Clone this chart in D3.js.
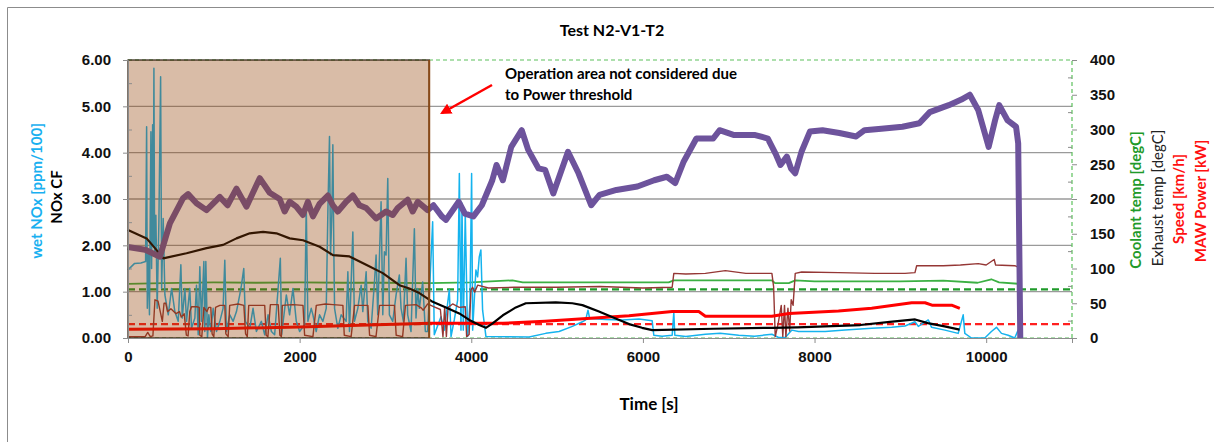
<!DOCTYPE html>
<html>
<head>
<meta charset="utf-8">
<script src="https://cdn.jsdelivr.net/npm/d3@7"></script>
<style>
  body { margin: 0; background: #fff; }
  svg { font-family: Lato, "Open Sans", sans-serif; }
  .tick text { font-weight: bold; font-size: 15px; fill: #111; }
</style>
</head>
<body>
<div id="chart"></div>
<script>
// time axis ticks and the two y axes
const xTicks = [0, 2000, 4000, 6000, 8000, 10000];
const leftTicks = [0, 1, 2, 3, 4, 5, 6];
const rightTicks = [0, 50, 100, 150, 200, 250, 300, 350, 400];

// excluded zone (power threshold)
const excludedEnd = 3510;

// thresholds (right axis units)
const coolantLimit = 70;
const powerLimit = 20;

// exhaust temp [degC] (purple, right axis)
const exhaustT = [0, 200, 372, 488, 640, 700, 798, 915, 1070, 1160, 1264, 1380, 1535, 1651, 1767, 1825, 1883, 1961, 2038, 2096, 2155, 2232, 2329, 2387, 2445, 2542, 2620, 2697, 2775, 2891, 3007, 3085, 3143, 3259, 3317, 3376, 3492, 3559, 3657, 3706, 3853, 3926, 4025, 4123, 4245, 4294, 4368, 4466, 4588, 4662, 4784, 4860, 4956, 5127, 5250, 5397, 5495, 5691, 5936, 6132, 6279, 6377, 6476, 6623, 6819, 6893, 7064, 7309, 7456, 7554, 7603, 7677, 7726, 7775, 7848, 7946, 8093, 8289, 8485, 8583, 8779, 9024, 9221, 9343, 9564, 9711, 9809, 9907, 10029, 10103, 10152, 10250, 10348, 10373, 10397];
const exhaustV = [131, 127, 117, 165, 201, 207, 194, 184, 203, 191, 215, 189, 230, 209, 200, 182, 196, 189, 177, 196, 175, 193, 205, 191, 182, 196, 205, 191, 187, 172, 182, 177, 187, 199, 182, 196, 184, 191, 175, 170, 196, 179, 175, 191, 227, 249, 227, 275, 299, 271, 244, 242, 208, 268, 237, 191, 206, 213, 218, 227, 232, 223, 254, 287, 287, 299, 292, 292, 287, 263, 249, 261, 244, 237, 268, 297, 299, 295, 290, 299, 301, 304, 309, 325, 335, 343, 350, 328, 275, 313, 335, 313, 304, 280, 0];

// coolant temp [degC] (green, right axis)
const coolantT = [0, 400, 1000, 1500, 2000, 2500, 3000, 3500, 4000, 4480, 4600, 5500, 6300, 6360, 7500, 7540, 7700, 7775, 8000, 9000, 9500, 9900, 10060, 10150, 10380];
const coolantV = [78, 79, 80, 79.5, 80, 79.5, 79.5, 79, 80, 83, 80, 80, 80, 83, 83, 79, 79, 83, 81.5, 81.5, 82.5, 79.5, 84.5, 80, 78];

// speed [km/h] (brown, right axis)
const speedT = [0, 200, 230, 260, 290, 314, 350, 400, 420, 440, 461, 500, 560, 600, 620, 655, 680, 700, 720, 740, 800, 830, 837, 860, 884, 920, 940, 965, 980, 1000, 1020, 1070, 1128, 1140, 1167, 1185, 1283, 1350, 1370, 1390, 1407, 1593, 1610, 1630, 1659, 1750, 1770, 1787, 1798, 1922, 2039, 2058, 2155, 2194, 2300, 2388, 2504, 2520, 2600, 2640, 2795, 2815, 2890, 2931, 3105, 3125, 3200, 3233, 3357, 3420, 3440, 3492, 3560, 3640, 3670, 3690, 3710, 3730, 3783, 3860, 3930, 3946, 3975, 3996, 4015, 4040, 4074, 4200, 4500, 5000, 5500, 6000, 6341, 6360, 6500, 6728, 6961, 7200, 7503, 7523, 7542, 7575, 7612, 7630, 7650, 7666, 7690, 7710, 7728, 7750, 7775, 7850, 8279, 8700, 9054, 9170, 9190, 9500, 9700, 9907, 10000, 10093, 10110, 10333, 10372, 10383];
const speedV = [2, 2, 8, 2, 3, 55, 53, 24, 50, 50, 38, 42, 35, 38, 30, 35, 4, 3, 38, 45, 45, 44, 4, 2, 44, 38, 44, 44, 6, 2, 44, 47, 47, 6, 2, 47, 49, 47, 6, 2, 47, 47, 4, 2, 48, 48, 4, 2, 47, 48, 47, 4, 2, 47, 49, 48, 47, 4, 2, 47, 47, 4, 2, 47, 47, 4, 2, 47, 48, 43, 40, 49, 45, 41, 2, 45, 2, 44, 49, 44, 45, 2, 5, 69, 73, 66, 76, 72, 73, 73, 74, 72, 73, 93, 92, 93, 97, 93, 93, 74, 2, 20, 47, 2, 47, 2, 43, 10, 55, 47, 93, 95, 94, 93, 93, 94, 104, 104, 105, 107, 105, 113, 105, 104, 102, 0];

// MAW power [kW] (red, right axis)
const powerT = [0, 1000, 2000, 3000, 3512, 4368, 4858, 5348, 5838, 6341, 6651, 6728, 7503, 7701, 8279, 8666, 9132, 9287, 9368, 9597, 9693];
const powerV = [12.7, 13.3, 16, 19.3, 21.3, 21.3, 24, 28, 32, 38, 38, 31.3, 31.3, 35.3, 38.7, 42.7, 50.7, 50.7, 47.3, 47.3, 42.7];

// NOx CF (black, left axis)
const noxCfT = [0, 217, 314, 411, 682, 915, 1108, 1264, 1419, 1574, 1729, 1884, 2039, 2233, 2388, 2581, 2775, 2969, 3163, 3279, 3395, 3550, 3705, 3860, 3977, 4093, 4170, 4245, 4368, 4519, 4636, 4984, 5178, 5295, 5488, 5682, 5838, 5990, 6110, 6819, 7503, 7799, 8534, 8877, 9172, 9319, 9515, 9690];
const noxCfV = [2.33, 2.15, 1.94, 1.72, 1.83, 1.94, 2.01, 2.15, 2.26, 2.29, 2.26, 2.15, 2.11, 1.97, 1.79, 1.76, 1.58, 1.40, 1.14, 1.07, 0.97, 0.78, 0.66, 0.53, 0.39, 0.28, 0.22, 0.31, 0.49, 0.66, 0.75, 0.77, 0.75, 0.71, 0.57, 0.42, 0.30, 0.22, 0.17, 0.20, 0.22, 0.23, 0.28, 0.35, 0.40, 0.32, 0.25, 0.18];

// wet NOx [ppm/100] (light blue, left axis)
const wetNoxT = [0, 77, 150, 205, 217, 225, 240, 250, 267, 275, 287, 295, 302, 310, 325, 340, 360, 380, 392, 410, 430, 469, 508, 546, 585, 616, 632, 663, 682, 720, 740, 779, 798, 818, 837, 856, 884, 895, 907, 926, 942, 965, 992, 1031, 1070, 1108, 1128, 1147, 1186, 1225, 1264, 1302, 1322, 1349, 1368, 1419, 1457, 1496, 1554, 1593, 1632, 1671, 1709, 1775, 1790, 1845, 1883, 1922, 1961, 2000, 2058, 2077, 2096, 2135, 2155, 2193, 2232, 2271, 2310, 2329, 2348, 2360, 2376, 2387, 2399, 2407, 2445, 2484, 2542, 2562, 2581, 2620, 2639, 2678, 2717, 2736, 2775, 2794, 2833, 2872, 2891, 2910, 2949, 2969, 2988, 3007, 3027, 3046, 3085, 3124, 3162, 3182, 3209, 3240, 3259, 3298, 3337, 3356, 3376, 3395, 3434, 3465, 3492, 3550, 3569, 3647, 3686, 3744, 3764, 3802, 3841, 3861, 3880, 3892, 3907, 3930, 3957, 3985, 4004, 4016, 4054, 4074, 4093, 4112, 4132, 4171, 4674, 4868, 5023, 5178, 5295, 5333, 5360, 5380, 5566, 5760, 5954, 6108, 6127, 6224, 6341, 6360, 6372, 6500, 6728, 6900, 7116, 7300, 7503, 7581, 7659, 7736, 7813, 8124, 8356, 8666, 8899, 9054, 9170, 9209, 9325, 9364, 9519, 9674, 9732, 9751, 9829, 9984, 10061, 10120, 10178, 10256, 10333, 10372, 10391];
const wetNoxV = [1.47, 1.61, 1.62, 1.65, 4.56, 0.64, 1.8, 0.5, 4.45, 1.5, 4.6, 2.0, 5.82, 1.79, 2.65, 0.64, 2.51, 5.64, 1.07, 2.58, 0.93, 0.50, 1.07, 0.57, 0.36, 1.58, 0.43, 1.07, 0.36, 1.07, 0.21, 0.43, 1.14, 0.07, 1.54, 0.36, 1.65, 0.14, 1.65, 0.0, 0.50, 0.14, 0.64, 0.14, 0.36, 0.64, 1.68, 0.14, 0.50, 0.36, 0.57, 0.93, 1.14, 1.50, 0.36, 0.21, 0.64, 0.14, 0.36, 0.07, 0.50, 0.14, 0.07, 1.72, 0.07, 0.93, 0.5, 1.07, 0.36, 0.14, 0.29, 2.87, 0.36, 0.64, 0.5, 0.14, 0.5, 0.36, 0.64, 2.72, 4.35, 1.79, 2.72, 4.17, 1.79, 0.64, 0.21, 0.5, 0.36, 1.43, 0.14, 2.29, 0.36, 0.64, 1.14, 0.57, 1.43, 0.36, 0.21, 1.21, 1.79, 0.5, 2.94, 0.5, 1.86, 1.79, 3.44, 0.5, 0.36, 0.93, 1.36, 0.64, 0.36, 1.72, 0.5, 0.14, 2.36, 0.43, 1.07, 0.64, 1.21, 0.14, 0.14, 2.51, 0.07, 0.46, 0.17, 1.04, 0.03, 0.39, 0.82, 3.55, 0.17, 2.91, 0.17, 2.69, 0.03, 0.75, 3.55, 0.17, 1.47, 1.32, 1.75, 1.9, 0.6, 0.03, 0.02, 0.10, 0.14, 0.25, 0.35, 0.39, 0.60, 0.42, 0.40, 0.39, 0.41, 0.37, 0.06, 0.04, 0.06, 0.55, 0.06, 0.03, 0.08, 0.10, 0.06, 0.04, 0.08, 0.01, 0.01, 0.17, 0.14, 0.14, 0.17, 0.21, 0.23, 0.26, 0.35, 0.25, 0.39, 0.23, 0.17, 0.10, 0.5, 0.10, 0.0, 0.0, 0.14, 0.23, 0.10, 0.06, 0.0, 0.17, 0.0];

const width = 1214;
const height = 442;
const plot = { left: 128, right: 1072, top: 60, bottom: 338 };

const svg = d3.select('#chart')
    .append('svg')
    .attr('width', width)
    .attr('height', height);

// outer frame (left and top edges visible)
svg.append('path')
    .attr('d', `M7.5,${height} V7.5 H${width}`)
    .attr('fill', 'none')
    .attr('stroke', '#8c8c8c')
    .attr('stroke-width', 1);

const x = d3.scaleLinear().domain([0, 11000]).range([plot.left, plot.right]);
const yL = d3.scaleLinear().domain([0, 6]).range([plot.bottom, plot.top]);
const yR = d3.scaleLinear().domain([0, 400]).range([plot.bottom, plot.top]);

// gridlines
svg.append('g')
    .selectAll('line')
    .data([1, 2, 3, 4, 5])
    .join('line')
    .attr('x1', plot.left)
    .attr('x2', plot.right)
    .attr('y1', d => yL(d))
    .attr('y2', d => yL(d))
    .attr('stroke', '#9a9a9a')
    .attr('stroke-width', 1.3);

// dashed green frame of the plot (top, right, bottom)
svg.append('path')
    .attr('d', `M${plot.left},${plot.top} H${plot.right} V${plot.bottom} H${plot.left}`)
    .attr('fill', 'none')
    .attr('stroke', '#5cc05c')
    .attr('stroke-width', 1.2)
    .attr('stroke-dasharray', '4,3');

function series(T, V, scale) {
    return d3.line().x((d, i) => x(T[i])).y(d => scale(d))(V);
}

function drawLine(T, V, scale, color, w, dash) {
    svg.append('path')
        .attr('d', series(T, V, scale))
        .attr('fill', 'none')
        .attr('stroke', color)
        .attr('stroke-width', w)
        .attr('stroke-linejoin', 'round')
        .attr('stroke-dasharray', dash || null);
}

// threshold lines
drawLine([0, 11000], [coolantLimit, coolantLimit], yR, '#1f9a2a', 2.2, '7,4');
drawLine([0, 11000], [powerLimit, powerLimit], yR, '#ff2020', 2.2, '7,4');

drawLine(coolantT, coolantV, yR, '#3cb043', 1.8);
drawLine(wetNoxT, wetNoxV, yL, '#15b3ee', 1.5);
drawLine(speedT, speedV, yR, '#953735', 1.4);
drawLine(powerT, powerV, yR, '#ff0000', 3);
drawLine(noxCfT, noxCfV, yL, '#000000', 2.2);
drawLine(exhaustT, exhaustV, yR, '#6d539c', 6);

// shaded excluded area drawn over the traces
svg.append('rect')
    .attr('x', x(0))
    .attr('y', plot.top)
    .attr('width', x(excludedEnd) - x(0))
    .attr('height', plot.bottom - plot.top)
    .attr('fill', '#924004')
    .attr('fill-opacity', 0.35)
    .attr('stroke', '#2a1a0a')
    .attr('stroke-width', 1.2);

svg.append('line')
    .attr('x1', x(excludedEnd))
    .attr('x2', x(excludedEnd))
    .attr('y1', plot.top)
    .attr('y2', plot.bottom)
    .attr('stroke', '#8a4a18')
    .attr('stroke-width', 2);

// axes
const axisLeft = svg.append('g')
    .attr('transform', `translate(${plot.left},0)`)
    .call(d3.axisLeft(yL).tickValues(leftTicks).tickFormat(d3.format('.2f')).tickSize(5).tickPadding(12));
axisLeft.select('.domain').attr('stroke', '#8c8c8c');
axisLeft.selectAll('.tick line').attr('stroke', '#8c8c8c');

svg.append('g')
    .attr('transform', `translate(${plot.left},0)`)
    .call(d3.axisLeft(yL).tickValues([0.5, 1.5, 2.5, 3.5, 4.5, 5.5]).tickFormat('').tickSize(-4))
    .call(g => g.select('.domain').remove())
    .selectAll('.tick line').attr('stroke', '#8c8c8c');

const axisRight = svg.append('g')
    .attr('transform', `translate(${plot.right},0)`)
    .call(d3.axisRight(yR).tickValues(rightTicks).tickSize(5).tickPadding(13));
axisRight.select('.domain').remove();
axisRight.selectAll('.tick line').attr('stroke', '#8c8c8c');

svg.append('g')
    .attr('transform', `translate(${plot.right},0)`)
    .call(d3.axisRight(yR).tickValues(d3.range(25, 400, 50)).tickFormat('').tickSize(-4))
    .call(g => g.select('.domain').remove())
    .selectAll('.tick line').attr('stroke', '#8c8c8c');

const axisBottom = svg.append('g')
    .attr('transform', `translate(0,${plot.bottom})`)
    .call(d3.axisBottom(x).tickValues(xTicks).tickFormat(d3.format('d')).tickSize(5).tickPadding(8));
axisBottom.select('.domain').attr('stroke', '#8c8c8c');
axisBottom.selectAll('.tick line').attr('stroke', '#8c8c8c');

// titles
svg.append('text')
    .attr('x', 612).attr('y', 36)
    .attr('text-anchor', 'middle')
    .style('font-size', '16px').style('font-weight', 'bold')
    .text('Test N2-V1-T2');

svg.append('text')
    .attr('x', 649).attr('y', 410)
    .attr('text-anchor', 'middle')
    .style('font-size', '17px').style('font-weight', 'bold')
    .text('Time [s]');

const yTitles = [
    { text: 'wet NOx [ppm/100]', x: 36, y: 191, color: '#1ab0f0', weight: 'bold' },
    { text: 'NOx CF', x: 56, y: 197, color: '#000', weight: 'bold' },
    { text: 'Coolant temp [degC]', x: 1135, y: 200, color: '#1f9a2a', weight: 'bold' },
    { text: 'Exhaust temp [degC]', x: 1157, y: 198, color: '#222', weight: 'normal' },
    { text: 'Speed [km/h]', x: 1178, y: 199, color: '#ff1010', weight: 'bold' },
    { text: 'MAW Power [kW]', x: 1200, y: 201, color: '#ff1010', weight: 'bold' }
];

svg.append('g')
    .selectAll('text')
    .data(yTitles)
    .join('text')
    .attr('transform', d => `translate(${d.x},${d.y}) rotate(-90)`)
    .attr('text-anchor', 'middle')
    .attr('dominant-baseline', 'central')
    .attr('fill', d => d.color)
    .style('font-size', '15px')
    .style('font-weight', d => d.weight)
    .text(d => d.text);

// annotation
svg.append('text')
    .attr('x', 505).attr('y', 79)
    .style('font-size', '15px').style('font-weight', 'bold')
    .text('Operation area not considered due');
svg.append('text')
    .attr('x', 505).attr('y', 100)
    .style('font-size', '15px').style('font-weight', 'bold')
    .text('to Power threshold');

svg.append('defs').append('marker')
    .attr('id', 'arrow')
    .attr('viewBox', '0 0 10 10')
    .attr('refX', 8).attr('refY', 5)
    .attr('markerWidth', 4.5).attr('markerHeight', 4.5)
    .attr('orient', 'auto')
    .append('path')
    .attr('d', 'M0,0 L10,5 L0,10 z')
    .attr('fill', '#ff0000');

svg.append('line')
    .attr('x1', 492).attr('y1', 85)
    .attr('x2', 442).attr('y2', 113)
    .attr('stroke', '#ff0000')
    .attr('stroke-width', 2.5)
    .attr('marker-end', 'url(#arrow)');
</script>
</body>
</html>
